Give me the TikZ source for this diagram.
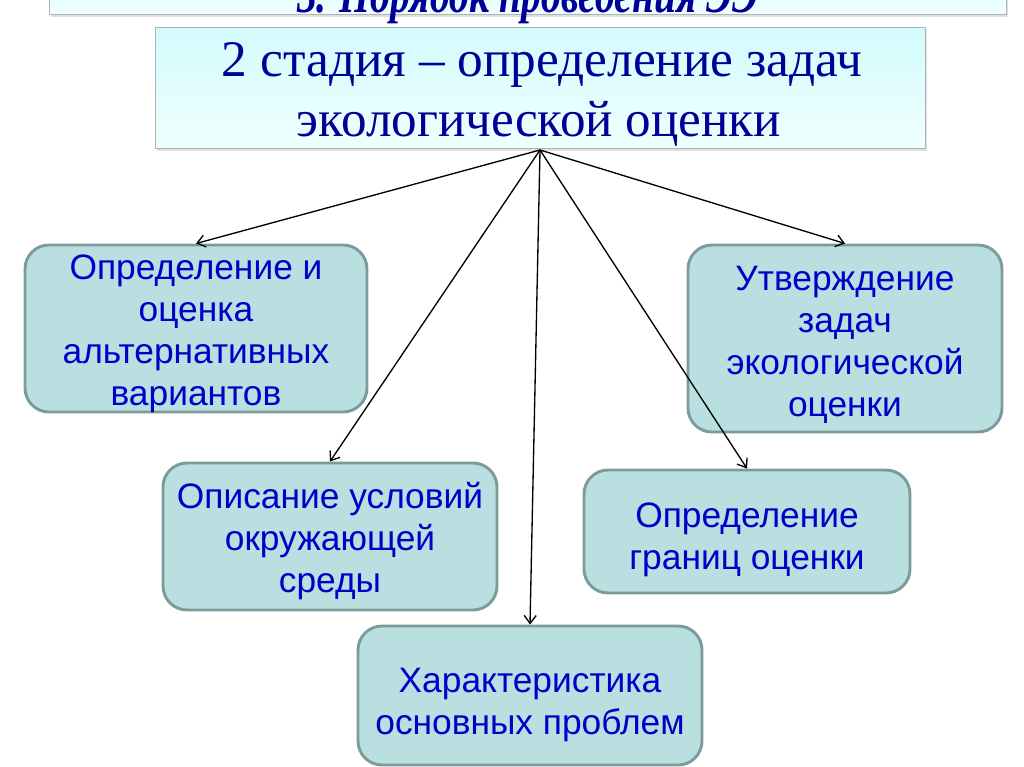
\documentclass[tikz,border=0pt]{standalone}
\usepackage{fontspec}
\setmainfont{Liberation Serif}
\newfontfamily\boxfont{Liberation Sans}
\usetikzlibrary{arrows.meta,shadows}
\definecolor{boxfill}{RGB}{185,223,225}
\definecolor{boxline}{RGB}{125,155,155}
\definecolor{boxtext}{RGB}{0,0,200}
\definecolor{titletext}{RGB}{0,0,150}
\definecolor{cyantop}{RGB}{210,251,252}
\definecolor{cyanbot}{RGB}{240,255,255}
\tikzset{
  stagebox/.style={draw=boxline, line width=2.2pt, fill=boxfill, rounded corners=18pt, inner sep=0pt},
  stagetext/.style={align=center, inner sep=0pt, text=boxtext,
    font=\boxfont\fontsize{26.5pt}{31.5pt}\selectfont},
  titlebox/.style={draw=gray!60, line width=0.6pt, top color=cyantop, bottom color=cyanbot,
    drop shadow={shadow xshift=1.5pt, shadow yshift=-1.5pt, fill=gray!50},
    inner sep=0pt, align=center, text=titletext},
  titletxt/.style={anchor=base, text=titletext, font=\fontsize{38.5pt}{46pt}\selectfont},
  link/.style={draw=black, line width=1pt, -{Straight Barb[length=6pt,width=9pt,line width=1pt]}}
}
\begin{document}
\begin{tikzpicture}[x=0.75pt,y=-0.75pt]
\useasboundingbox (0,0) rectangle (1024,767);
\begin{scope}
\clip (0,0) rectangle (1024,767);
% top banner (cut off at the top edge, as in the reference)
\node[titlebox, minimum width=717.75pt, minimum height=45pt, anchor=south] (banner) at (527.5,15) {};
\node[anchor=base, text=titletext, font=\bfseries\itshape\fontsize{40pt}{44pt}\selectfont] (bannertext) at (527.5,13)
  {\resizebox{345.75pt}{\height}{3. Порядок проведения ЭЭ}};
\end{scope}
% title box
\node[titlebox, minimum width=577.5pt, minimum height=90.75pt] (title) at (540,88) {};
\node[titletxt] (t1) at (542,77) {\resizebox{480pt}{\height}{2 стадия – определение задач}};
\node[titletxt] (t2) at (539,137) {\resizebox{363pt}{\height}{экологической оценки}};
\coordinate (apex) at (540,150);
% boxes
\node[stagebox, minimum width=256.5pt, minimum height=125.25pt] (b1) at (196,328.5) {};
\node[stagebox, minimum width=235.5pt, minimum height=140.25pt] (b2) at (845,338.5) {};
\node[stagebox, minimum width=250.5pt, minimum height=110.25pt] (b3) at (330,536.5) {};
\node[stagebox, minimum width=244.5pt, minimum height=92.25pt] (b4) at (747,531.5) {};
\node[stagebox, minimum width=258pt, minimum height=104.25pt] (b5) at (530,695.5) {};
% box texts
\node[stagetext] (b1t) at (196,334) {Определение и\\оценка\\альтернативных\\вариантов};
\node[stagetext] (b2t) at (845,345) {Утверждение\\задач\\экологической\\оценки};
\node[stagetext] (b3t) at (330,541.5) {Описание условий\\окружающей\\среды};
\node[stagetext] (b4t) at (747,539.5) {Определение\\границ оценки};
\node[stagetext] (b5t) at (530,705) {Характеристика\\основных проблем};
% connectors
\draw[link] (apex) -- (b1.north);
\draw[link] (apex) -- (b2.north);
\draw[link] (apex) -- (b3.north);
\draw[link] (apex) -- (b4.north);
\draw[link] (apex) -- (b5.north);
\end{tikzpicture}
\end{document}
